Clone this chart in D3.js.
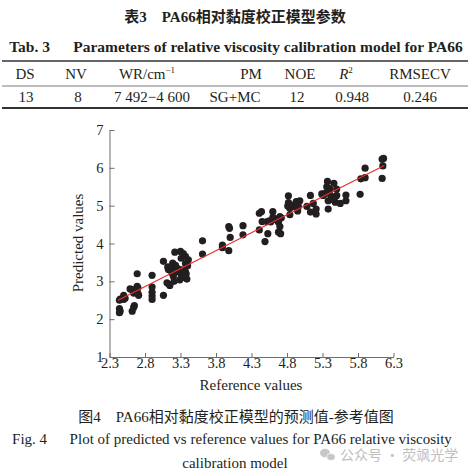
<!DOCTYPE html>
<html>
<head>
<meta charset="utf-8">
<script src="https://cdn.jsdelivr.net/npm/d3@7"></script>
<style>
  body { margin: 0; background: #fff; }
  svg text { font-family: "Liberation Serif", "Times New Roman", "Noto Sans CJK SC", serif; fill: #231f20; }
</style>
</head>
<body>
<script>
// Table content
const tableHeaders = ['DS', 'NV', 'WR/cm', 'PM', 'NOE', 'R', 'RMSECV'];
const tableValues = ['13', '8', '7 492\u22124 600', 'SG+MC', '12', '0.948', '0.246'];

// Axis ticks
const xTicks = [2.3, 2.8, 3.3, 3.8, 4.3, 4.8, 5.3, 5.8, 6.3];
const yTicks = [1, 2, 3, 4, 5, 6, 7];

// Reference values (x) and predicted values (y)
const refValues = [
  2.44, 2.45, 2.44, 2.44, 2.45, 2.50, 2.50, 2.52, 2.59, 2.62, 2.64, 2.66, 2.65, 2.64, 2.62, 2.69, 2.69, 2.70, 2.71, 2.70,
  2.90, 2.90, 2.90, 2.90, 2.90,
  3.06, 3.06, 3.12, 3.13, 3.11, 3.14, 3.15, 3.18, 3.19, 3.18, 3.20, 3.21, 3.22, 3.23, 3.25, 3.30, 3.31, 3.30, 3.31, 3.29,
  3.32, 3.34, 3.37, 3.37, 3.41, 3.40, 3.37, 3.38, 3.39, 3.35, 3.27, 3.16,
  3.61, 3.61, 3.89, 3.89, 3.98, 3.99, 3.98, 4.00, 4.18, 4.18,
  4.41, 4.44, 4.41, 4.45, 4.49, 4.52, 4.53, 4.55, 4.57, 4.60, 4.60, 4.63, 4.65, 4.68, 4.70, 4.68, 4.71, 4.70, 4.72,
  4.82, 4.82, 4.81, 4.84, 4.84, 4.85, 4.88, 4.93, 4.95, 4.96, 4.98, 4.94,
  5.08, 5.13, 5.13, 5.17, 5.21, 5.21,
  5.29, 5.31, 5.34, 5.36, 5.37, 5.38, 5.38, 5.40, 5.42, 5.40, 5.46, 5.48, 5.48, 5.50, 5.50, 5.46, 5.55, 5.63, 5.63, 5.44,
  5.83, 5.84, 5.90, 5.90, 6.14, 6.14, 6.16, 6.15
];
const predValues = [
  2.50, 2.53, 2.28, 2.17, 2.21, 2.63, 2.52, 2.55, 2.80, 2.78, 2.69, 2.75, 2.36, 2.31, 2.21, 3.20, 2.87, 2.83, 2.63, 2.68,
  3.16, 2.85, 2.71, 2.61, 2.52,
  2.63, 3.53, 3.38, 3.31, 2.96, 2.92, 2.89, 3.40, 3.48, 3.22, 3.13, 3.00, 3.77, 3.42, 3.35, 3.79, 3.61, 3.31, 3.18, 3.04,
  3.10, 3.73, 3.66, 3.47, 3.57, 3.41, 3.25, 3.20, 3.06, 3.30, 3.25, 3.33,
  4.07, 3.72, 3.96, 3.89, 4.45, 4.40, 3.81, 4.16, 4.47, 4.23,
  4.80, 4.84, 4.36, 4.58, 4.05, 4.58, 4.26, 4.60, 4.57, 4.84, 4.69, 4.65, 4.62, 4.56, 4.71, 4.30, 4.26, 4.45, 4.68,
  5.26, 5.08, 4.99, 4.76, 4.93, 5.02, 4.98, 5.11, 4.86, 4.98, 5.13, 4.93,
  4.98, 5.27, 4.83, 5.06, 4.91, 4.78,
  5.31, 5.27, 5.33, 5.50, 5.64, 4.91, 5.13, 5.45, 5.24, 5.38, 5.59, 5.24, 5.09, 5.44, 5.27, 5.15, 5.06, 5.28, 5.13, 5.18,
  5.30, 5.71, 5.99, 5.74, 5.72, 6.23, 6.25, 6.05
];

// Fitted line end points
const fitX = [2.42, 6.17];
const fitY = [2.50, 6.06];

const W = 470, H = 475;
const svg = d3.select('body').append('svg')
    .attr('width', W)
    .attr('height', H);

// ---- Titles ----
svg.append('text')
    .attr('x', 235).attr('y', 22)
    .attr('text-anchor', 'middle')
    .style('font-size', '15px')
    .style('font-weight', 'bold')
    .text('表3\u2003PA66相对黏度校正模型参数');

svg.append('text')
    .attr('x', 236).attr('y', 52)
    .attr('text-anchor', 'middle')
    .style('font-size', '15.5px')
    .style('font-weight', 'bold')
    .text('Tab. 3\u2003\u2002Parameters of relative viscosity calibration model for PA66');

// ---- Table ----
const headX = [25, 76, 147, 251, 300, 346, 420];
const valX = [26, 78, 152, 235, 297, 352, 420];

svg.append('line').attr('x1', 2).attr('x2', 468).attr('y1', 61).attr('y2', 61)
    .attr('stroke', '#333').attr('stroke-width', 1.6);
svg.append('line').attr('x1', 2).attr('x2', 468).attr('y1', 86).attr('y2', 86)
    .attr('stroke', '#555').attr('stroke-width', 0.8);
svg.append('line').attr('x1', 2).attr('x2', 468).attr('y1', 108).attr('y2', 108)
    .attr('stroke', '#333').attr('stroke-width', 1.8);

const head = svg.append('g').selectAll('text')
    .data(tableHeaders)
    .join('text')
    .attr('x', (d, i) => headX[i])
    .attr('y', 79)
    .attr('text-anchor', 'middle')
    .style('font-size', '15px');

head.each(function(d) {
    const t = d3.select(this);
    if (d === 'R') {
        t.append('tspan').style('font-style', 'italic').text('R');
        t.append('tspan').attr('dy', -6).style('font-size', '9px').text('2');
    } else if (d === 'WR/cm') {
        t.append('tspan').text('WR/cm');
        t.append('tspan').attr('dy', -6).style('font-size', '9px').text('\u22121');
    } else {
        t.text(d);
    }
});

svg.append('g').selectAll('text')
    .data(tableValues)
    .join('text')
    .attr('x', (d, i) => valX[i])
    .attr('y', 102)
    .attr('text-anchor', 'middle')
    .style('font-size', '15px')
    .text(d => d);

// ---- Scatter plot ----
const plot = { left: 109.5, right: 393.5, top: 130, bottom: 357 };

const x = d3.scaleLinear().domain([2.3, 6.3]).range([plot.left, plot.right]);
const y = d3.scaleLinear().domain([1, 7]).range([plot.bottom, plot.top]);

const gx = svg.append('g')
    .attr('transform', `translate(0, ${plot.bottom})`)
    .call(d3.axisBottom(x).tickValues(xTicks).tickFormat(d3.format('.1f'))
        .tickSizeInner(-4).tickSizeOuter(0).tickPadding(1));

const gy = svg.append('g')
    .attr('transform', `translate(${plot.left}, 0)`)
    .call(d3.axisLeft(y).tickValues(yTicks).tickFormat(d3.format('d'))
        .tickSizeInner(-5).tickSizeOuter(0).tickPadding(6));

svg.selectAll('.domain, .tick line')
    .attr('stroke', '#6d6d6d')
    .attr('stroke-width', 1);
svg.selectAll('.tick text')
    .style('font-family', '"Liberation Serif", "Times New Roman", serif')
    .style('font-size', '14.5px')
    .attr('fill', '#231f20');

// points
svg.append('g')
    .selectAll('circle')
    .data(refValues)
    .join('circle')
    .attr('cx', d => x(d))
    .attr('cy', (d, i) => y(predValues[i]))
    .attr('r', 3.6)
    .attr('fill', '#231f20');

// fitted line
svg.append('line')
    .attr('x1', x(fitX[0])).attr('y1', y(fitY[0]))
    .attr('x2', x(fitX[1])).attr('y2', y(fitY[1]))
    .attr('stroke', '#e8302c')
    .attr('stroke-width', 1.2);

// axis titles
svg.append('text')
    .attr('x', 251).attr('y', 390)
    .attr('text-anchor', 'middle')
    .style('font-size', '15px')
    .text('Reference values');

svg.append('text')
    .attr('transform', 'translate(83, 243) rotate(-90)')
    .attr('text-anchor', 'middle')
    .style('font-size', '15px')
    .text('Predicted values');

// ---- Caption ----
svg.append('text')
    .attr('x', 236).attr('y', 422)
    .attr('text-anchor', 'middle')
    .style('font-size', '15px')
    .text('图4\u2003PA66相对黏度校正模型的预测值-参考值图');

svg.append('text')
    .attr('x', 232).attr('y', 444)
    .attr('text-anchor', 'middle')
    .style('font-size', '15px')
    .text('Fig. 4\u2003\u2002Plot of predicted vs reference values for PA66 relative viscosity');

svg.append('text')
    .attr('x', 235).attr('y', 468)
    .attr('text-anchor', 'middle')
    .style('font-size', '15px')
    .text('calibration model');

// watermark
const wm = svg.append('g').attr('opacity', 0.55);
wm.append('ellipse').attr('cx', 325).attr('cy', 453).attr('rx', 5).attr('ry', 4.2).attr('fill', '#9a9a9a');
wm.append('ellipse').attr('cx', 331).attr('cy', 457).attr('rx', 4.2).attr('ry', 3.5).attr('fill', '#9a9a9a')
    .attr('stroke', '#fff').attr('stroke-width', 0.8);
wm.append('text')
    .attr('x', 340).attr('y', 460)
    .style('font-family', '"Noto Sans CJK SC", sans-serif')
    .style('font-size', '14px')
    .style('fill', '#8a8a8a')
    .text('公众号 · 荧飒光学');
</script>
</body>
</html>
